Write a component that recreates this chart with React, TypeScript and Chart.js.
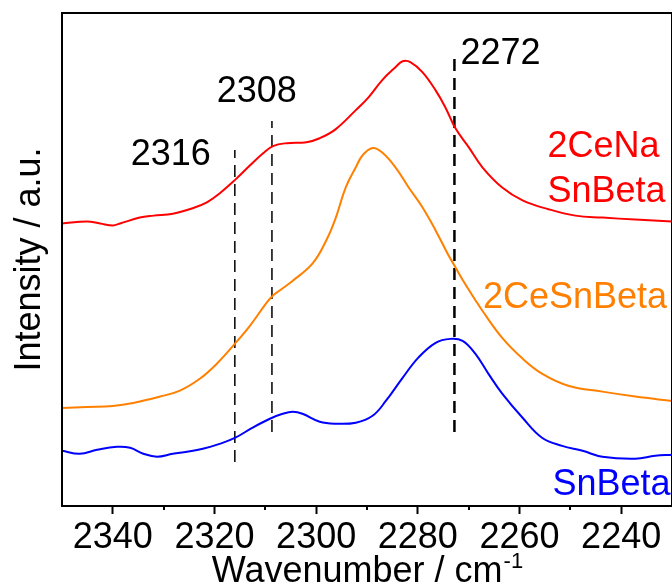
import React, { useEffect, useRef } from 'react';
import { Chart, registerables } from 'chart.js';

Chart.register(...registerables);

// ---- data (wavenumber in cm-1, intensity in arbitrary units) ----
const xTickValues = [2340, 2320, 2300, 2280, 2260, 2240];
const xMinorTickValues = [2330, 2310, 2290, 2270, 2250];

const ceNaWavenumbers = [2350, 2345.1, 2342.5, 2340, 2338.6, 2334.7, 2332, 2328.2, 2324.3, 2321.5, 2319, 2316, 2313, 2310.5, 2308.5, 2305.8, 2301.9, 2299.3, 2296.2, 2292.2, 2289.7, 2287, 2284.4, 2283, 2281.4, 2279.1, 2276.5, 2274.6, 2272.6, 2270, 2267.3, 2263.4, 2259.4, 2254.3, 2249, 2243.7, 2237.2, 2230];
const ceNaIntensity = [57.3, 57.7, 57.3, 56.9, 57.3, 58.5, 58.9, 59.3, 60.4, 61.6, 63.4, 66.1, 69.1, 71.5, 73.0, 73.6, 73.8, 74.6, 76.4, 80.3, 82.9, 86.4, 89.0, 90.2, 90.0, 88.0, 84.3, 80.9, 76.6, 72.8, 68.7, 64.6, 62.0, 60.2, 58.9, 58.5, 58.1, 57.7];

const ceWavenumbers = [2350, 2345.1, 2340, 2336, 2330.7, 2326.8, 2322.9, 2319.5, 2316, 2313, 2309.7, 2308.5, 2307.2, 2304.6, 2300.7, 2298, 2296.2, 2294.2, 2292.2, 2290.9, 2288.9, 2287, 2284.4, 2281.8, 2279.1, 2276.5, 2274, 2272.8, 2271.2, 2268.7, 2267.3, 2263.4, 2259.4, 2255.5, 2250.4, 2243.7, 2237.2, 2230];
const ceIntensity = [19.9, 20.1, 20.3, 20.9, 22.2, 23.4, 25.8, 28.9, 32.9, 36.6, 41.3, 42.7, 43.7, 45.7, 49.2, 53.9, 58.3, 64.6, 68.7, 71.1, 72.6, 71.7, 68.7, 64.6, 60.6, 55.9, 50.9, 48.8, 45.9, 41.8, 39.6, 34.1, 29.9, 26.8, 24.4, 23.2, 22.2, 21.3];

const snWavenumbers = [2350, 2346.5, 2343.1, 2339.2, 2336.6, 2334, 2331.3, 2328.2, 2325.4, 2322.3, 2319, 2316, 2312.5, 2309.1, 2306.6, 2304.6, 2302.7, 2299.3, 2296.2, 2292.2, 2288.9, 2286.3, 2283, 2279.9, 2276.5, 2273.6, 2271.2, 2268.7, 2266.1, 2263.4, 2259.4, 2255.5, 2251.6, 2247.6, 2243.7, 2237.2, 2233.3, 2230];
const snIntensity = [11.2, 10.6, 11.4, 12.0, 11.8, 10.6, 10.0, 10.6, 11.0, 11.6, 12.6, 13.8, 15.9, 17.7, 18.7, 19.1, 18.7, 17.1, 16.7, 16.9, 18.3, 21.3, 26.0, 30.1, 33.1, 33.9, 33.5, 30.9, 26.8, 22.8, 17.9, 13.8, 12.2, 11.2, 10.0, 9.6, 10.2, 10.4];

// marker lines: wavenumber, bottom and top intensity
const markerWavenumbers = [2316, 2308.7, 2272.8];
const markerBottoms = [8.9, 15.0, 15.0];
const markerTops = [72.2, 78.1, 91.1];
const markerWidths = [1.5, 1.5, 2.5];

const markerLabels = ['2316', '2308', '2272'];
const seriesLabels = ['2CeNa', 'SnBeta', '2CeSnBeta', 'SnBeta'];

// ---- styling / layout ----
const FONT = "'Liberation Sans', Arial, sans-serif";
const RED = '#ff0000';
const ORANGE = '#ff8000';
const BLUE = '#0000ff';

// text annotations placed in data coordinates
const textAnnotations = [
  { text: markerLabels[0], x: 2328.6, y: 69.2, align: 'center', color: '#000' },
  { text: markerLabels[1], x: 2311.7, y: 81.9, align: 'center', color: '#000' },
  { text: markerLabels[2], x: 2271.6, y: 89.7, align: 'left', color: '#000' },
  { text: seriesLabels[0], x: 2254.5, y: 70.8, align: 'left', color: RED },
  { text: seriesLabels[1], x: 2254.5, y: 61.7, align: 'left', color: RED },
  { text: seriesLabels[2], x: 2267.2, y: 40.2, align: 'left', color: ORANGE },
  { text: seriesLabels[3], x: 2253.5, y: 2.2, align: 'left', color: BLUE },
];

const toPoints = (xs: number[], ys: number[]) => xs.map((x, i) => ({ x, y: ys[i] }));

const decorPlugin = {
  id: 'decor',
  beforeDraw(chart: any) {
    const { ctx, width, height } = chart;
    ctx.save();
    ctx.fillStyle = '#ffffff';
    ctx.fillRect(0, 0, width, height);
    ctx.restore();
  },
  afterDraw(chart: any) {
    const { ctx, chartArea } = chart;
    const xs = chart.scales.x;
    const ys = chart.scales.y;
    ctx.save();
    // frame
    ctx.strokeStyle = '#000';
    ctx.lineWidth = 2;
    ctx.strokeRect(chartArea.left, chartArea.top, chartArea.right - chartArea.left, chartArea.bottom - chartArea.top);
    // minor ticks
    ctx.lineWidth = 2;
    ctx.beginPath();
    for (const v of xMinorTickValues) {
      const px = Math.round(xs.getPixelForValue(v));
      ctx.moveTo(px, chartArea.bottom);
      ctx.lineTo(px, chartArea.bottom + 4);
    }
    ctx.stroke();

    // annotations
    ctx.font = `36px ${FONT}`;
    ctx.textBaseline = 'alphabetic';
    for (const a of textAnnotations) {
      ctx.fillStyle = a.color;
      ctx.textAlign = a.align as CanvasTextAlign;
      ctx.fillText(a.text, xs.getPixelForValue(a.x), ys.getPixelForValue(a.y));
    }

    // x axis title with superscript
    const mainText = 'Wavenumber / cm';
    const supText = '-1';
    ctx.font = `36px ${FONT}`;
    const wMain = ctx.measureText(mainText).width;
    ctx.font = `22px ${FONT}`;
    const wSup = ctx.measureText(supText).width;
    const cx = (chartArea.left + chartArea.right) / 2;
    const startX = cx - (wMain + wSup) / 2;
    const baseY = 582;
    ctx.fillStyle = '#000';
    ctx.textAlign = 'left';
    ctx.font = `36px ${FONT}`;
    ctx.fillText(mainText, startX, baseY);
    ctx.font = `22px ${FONT}`;
    ctx.fillText(supText, startX + wMain + 1, baseY - 14);

    // y axis title
    ctx.font = `36px ${FONT}`;
    ctx.translate(40, (chartArea.top + chartArea.bottom) / 2);
    ctx.rotate(-Math.PI / 2);
    ctx.textAlign = 'center';
    ctx.fillText('Intensity / a.u.', 0, 0);
    ctx.restore();
  },
};

export default function App() {
  const canvasRef = useRef<HTMLCanvasElement | null>(null);

  useEffect(() => {
    if (!canvasRef.current) return;
    const curveStyle = {
      borderWidth: 2,
      pointRadius: 0,
      fill: false,
      tension: 0.4,
    };
    const markerDatasets = markerWavenumbers.map((w, i) => ({
      label: 'marker' + markerLabels[i],
      data: [
        { x: w, y: markerBottoms[i] },
        { x: w, y: markerTops[i] },
      ],
      borderColor: '#000',
      borderWidth: markerWidths[i],
      borderDash: [12, 7],
      pointRadius: 0,
      fill: false,
      tension: 0,
    }));

    const chart = new Chart(canvasRef.current, {
      type: 'line',
      data: {
        datasets: [
          { label: '2CeNaSnBeta', data: toPoints(ceNaWavenumbers, ceNaIntensity), borderColor: RED, ...curveStyle },
          { label: '2CeSnBeta', data: toPoints(ceWavenumbers, ceIntensity), borderColor: ORANGE, ...curveStyle },
          { label: 'SnBeta', data: toPoints(snWavenumbers, snIntensity), borderColor: BLUE, ...curveStyle },
          ...markerDatasets,
        ],
      },
      options: {
        animation: false,
        responsive: false,
        devicePixelRatio: 1,
        layout: { padding: { top: 13, right: 0, left: 0, bottom: 0 } },
        plugins: {
          legend: { display: false },
          tooltip: { enabled: false },
          title: { display: false },
        },
        scales: {
          x: {
            type: 'linear',
            reverse: true,
            min: 2230,
            max: 2350,
            position: 'bottom',
            afterFit: (s: any) => {
              s.height = 80;
            },
            afterBuildTicks: (s: any) => {
              s.ticks = xTickValues.map((v) => ({ value: v }));
            },
            ticks: {
              font: { family: FONT, size: 36 },
              color: '#000',
              padding: 2,
              maxRotation: 0,
              minRotation: 0,
              autoSkip: false,
              callback: (v: any) => String(v),
            },
            grid: {
              display: true,
              drawOnChartArea: false,
              drawTicks: true,
              tickLength: 8,
              tickWidth: 2,
              tickColor: '#000',
            },
            border: { display: false },
          },
          y: {
            type: 'linear',
            min: 0,
            max: 100,
            afterFit: (s: any) => {
              s.width = 62;
            },
            ticks: { display: false },
            grid: { display: false },
            border: { display: false },
          },
        },
      },
      plugins: [decorPlugin],
    } as any);

    return () => {
      chart.destroy();
    };
  }, []);

  return (
    <div style={{ position: 'fixed', left: 0, top: 0, width: 672, height: 586, background: '#fff' }}>
      <canvas ref={canvasRef} width={672} height={586} style={{ display: 'block' }} />
    </div>
  );
}
